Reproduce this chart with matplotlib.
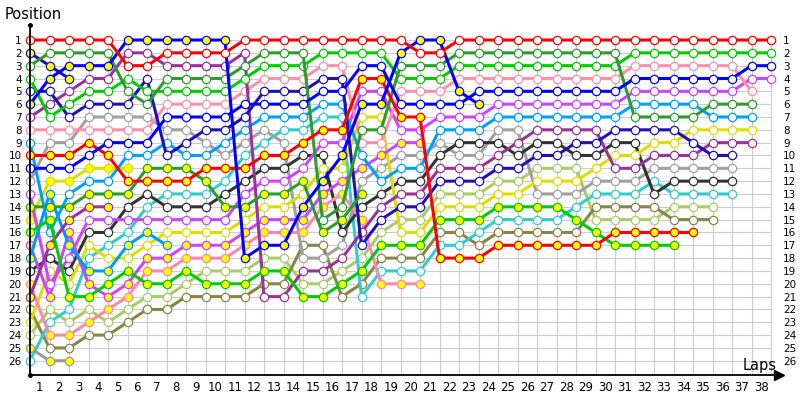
import matplotlib.pyplot as plt

# race positions per lap (index 0 = grid), list ends when the car stops
red_w = [1,1,1,1,1,3,3,2,2,2,2,1,1,1,1,1,1,1,1,1,2,2,1,1,1,1,1,1,1,1,1,1,1,1,1,1,1,1,1]
red_y = [10,10,10,9,10,12,12,12,12,11,11,11,10,10,9,8,8,4,4,7,7,18,18,18,17,17,17,17,17,17,16,16,16,16,16]
dgreen_w = [3,2,2,2,2,5,6,4,4,4,4,3,2,2,2,15,14,8,8,3,3,3,2,2,2,2,2,2,2,2,2,7,7,7,7,6,6,6]
dgreen_y = [14,14,14,13,13,13,11,11,11,12,14,14,13,13,12,16,15,13]
bgreen_w = [4,7,6,5,5,4,5,5,5,5,5,4,3,3,3,2,2,2,2,4,4,4,3,3,3,3,3,3,3,3,3,2,2,2,2,2,2,2,2]
bgreen_y = [16,15,21,21,20,19,20,20,19,20,20,20,19,19,21,21,20,19,17,17,17,15,15,15,14,14,14,14,15,16,17,17,17,17]
blue_w = [11,11,11,10,9,9,9,7,7,7,7,6,6,6,6,5,5,3,3,6,6,6,6,5,5,5,5,5,5,5,5,4,4,4,4,4,4,3,3]
blue_y = [6,4,3,3,3,1,1,1,1,1,1,18,17,17,14,12,10,6,6,2,1,1,5,6]
navy_w = [5,5,7,6,6,6,4,10,9,8,8,7,5,5,5,4,4,17,15,14,14,12,12,12,11,11,10,10,9,9,8,8,8,8,9,10,10]
navy_y = [2,3,4]
purple_w = [7,6,5,4,4,2,2,3,3,3,3,2,21,21,19,19,18,16,14,13,13,11,11,11,10,9,8,8,8,8,11,11,10,10,10,9,9,9]
purple_y = [21,17,15,14,14]
pink_w = [8,8,8,8,8,8,8,6,6,6,6,5,4,4,4,3,3,9,9,5,5,5,4,4,4,4,4,4,4,4,4,3,3,3,3,3,3,5]
pink_y = [20,24,24,23,22,21,19,19,18,18,18,17,16,16,16,14,13,15,20,20,20]
lblue_w = [9,16,13,12,12,10,10,9,10,10,9,8,7,7,7,6,6,10,12,11,11,8,8,8,7,7,7,7,7,7,7,6,6,6,6,7,7,7]
lblue_y = [18,13,17,19,19,17,16,17]
gray_w = [12,9,9,7,7,7,7,8,8,9,10,9,8,9,18,18,17,12,11,10,10,9,10,10,8,8,13,13,13,12,12,12,11,11,11,11,11]
gray_y = [25,26,26]
dark_w = [19,18,19,16,16,14,13,14,14,14,13,12,11,11,10,10,16,14,13,12,12,10,9,9,9,10,9,9,10,10,9,9,13,12,12,12,12]
yellow_w = [23,19,20,17,18,18,17,16,16,16,16,15,14,14,13,11,11,7,7,16,16,14,14,14,13,13,12,12,12,11,10,10,9,9,8,8,8,8]
yellow_y = [15,12,12,11,11,11]
violet_w = [13,20,18,15,15,15,15,15,15,15,15,13,12,12,11,9,9,5,5,8,8,7,7,7,6,6,6,6,6,6,6,5,5,5,5,5,5,4,4]
violet_y = [17,21,16,20,21,20,18,18,17,17,17,16,15,15,15,13,12,11,10,9,9]
cyan_w = [26,23,22,18,17,16,14,13,13,13,12,10,9,8,8,7,7,21,19,19,19,17,17,16,15,15,15,15,14,13,13,13,12,13,13,13,13]
olive_w = [22,25,25,24,24,23,22,22,21,21,21,21,20,20,17,17,21,20,18,18,18,16,16,17,16,16,16,16,16,14,14,14,14,15,15,15]
lolive_w = [24,22,23,22,23,22,21,21,20,19,19,19,18,18,20,20,19,18,16,15,15,13,13,13,12,12,11,11,11,15,15,15,15,14,14,14]

positions = list(range(1, 27))
lap_labels = list(range(1, 39))

YEL = '#ffff00'
drivers = [
    (lolive_w, '#a8cc66', 'white'), (olive_w, '#868646', 'white'),
    (cyan_w, '#33cccc', 'white'), (gray_y, '#999999', YEL),
    (gray_w, '#a0a0a0', 'white'), (dark_w, '#333333', 'white'),
    (yellow_y, '#dddd00', YEL), (yellow_w, '#dddd00', 'white'),
    (violet_y, '#cc44ff', YEL), (violet_w, '#cc44ff', 'white'),
    (lblue_y, '#0099ff', YEL), (lblue_w, '#00a0ff', 'white'),
    (pink_y, '#ff88aa', YEL), (pink_w, '#ff8fab', 'white'),
    (purple_y, '#993399', YEL), (purple_w, '#993399', 'white'),
    (navy_y, '#1f10b8', YEL), (navy_w, '#1f10b8', 'white'),
    (bgreen_y, '#00cc00', YEL), (bgreen_w, '#00cc00', 'white'),
    (dgreen_y, '#2e9b2e', YEL), (dgreen_w, '#2e9b2e', 'white'),
    (red_y, '#ff0000', YEL), (blue_w, '#0000ff', 'white'),
    (blue_y, '#0000ff', YEL), (red_w, '#ff0000', 'white'),
]

fig = plt.figure(figsize=(8, 4), dpi=100)
ax = fig.add_axes([0.0375, 0.0625, 0.93625, 0.875])
ax.set_xlim(0, 38.41)
ax.set_ylim(27.11, -0.17)

# grid
ax.hlines(positions, 0, 38, color='#cccccc', lw=0.8, zorder=0)
ax.vlines(range(0, 39), 1, 27.11, color='#cccccc', lw=0.8, zorder=0)

for pos, col, face in drivers:
    ax.plot(range(len(pos)), pos, color=col, lw=2.2, marker='o', ms=6,
            mfc=face, mec=col, mew=0.9, clip_on=False, zorder=3)

for s in ['top', 'right']:
    ax.spines[s].set_visible(False)
for s in ['left', 'bottom']:
    ax.spines[s].set_linewidth(1.3)
    ax.spines[s].set_zorder(5)

ax.set_yticks(positions)
ax.set_yticklabels([str(p) for p in positions], fontsize=7.5)
ax.tick_params(axis='y', length=0, pad=6)
ax.set_xticks([k - 0.5 for k in lap_labels])
ax.set_xticklabels([str(k) for k in lap_labels], fontsize=8.5)
ax.tick_params(axis='x', length=0, pad=4)

ax2 = ax.twinx()
ax2.set_ylim(ax.get_ylim())
ax2.set_yticks(positions)
ax2.set_yticklabels([str(p) for p in positions], fontsize=7.5)
ax2.tick_params(axis='y', length=0, pad=3)
for s in ['top', 'right', 'left', 'bottom']:
    ax2.spines[s].set_visible(False)

# axis ends
ax.plot([38.41], [27.11], marker='>', ms=7, color='black', clip_on=False, zorder=6)
ax.plot([0, 0], [-0.17, 27.11], ls='none', marker='o', ms=2.5, color='black',
        clip_on=False, zorder=6)

fig.text(0.006, 0.945, 'Position', fontsize=10.5, va='bottom', ha='left')
ax.text(38.3, 26.95, 'Laps', fontsize=10.5, ha='right', va='bottom')

fig.savefig('out.png', dpi=100)
